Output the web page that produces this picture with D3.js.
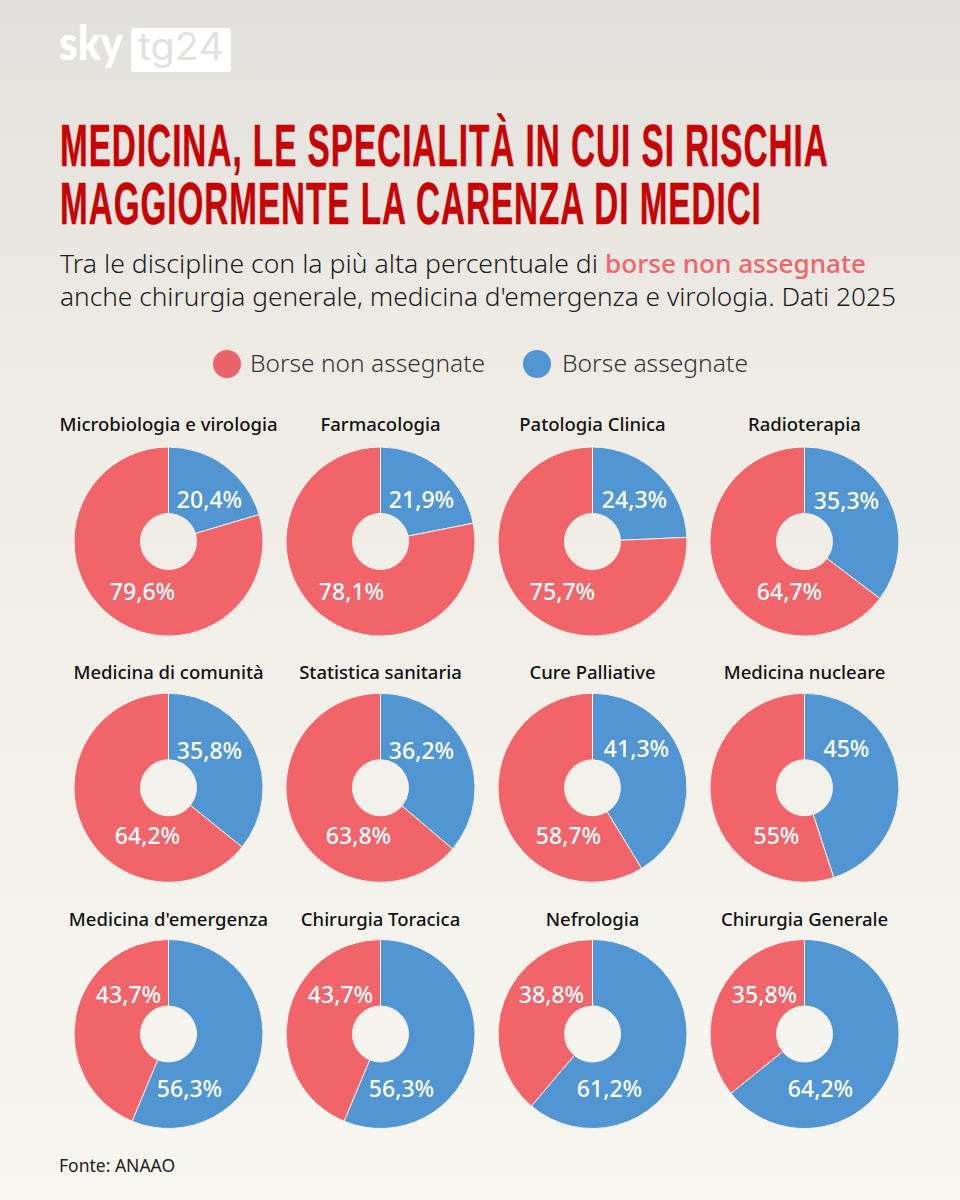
<!DOCTYPE html>
<html lang="it">
<head>
<meta charset="utf-8">
<title>Medicina, le specialità in cui si rischia la carenza di medici</title>
<script src="https://cdn.jsdelivr.net/npm/d3@7"></script>
<style>
  html, body { margin: 0; padding: 0; background: #f7f5ef; }
  svg { display: block; }
  text { font-family: "Noto Sans", sans-serif; }
</style>
</head>
<body>
<div id="chart"></div>
<script>
const categories = [
  "Microbiologia e virologia", "Farmacologia", "Patologia Clinica", "Radioterapia",
  "Medicina di comunità", "Statistica sanitaria", "Cure Palliative", "Medicina nucleare",
  "Medicina d'emergenza", "Chirurgia Toracica", "Nefrologia", "Chirurgia Generale"
]
const borseAssegnate = [20.4, 21.9, 24.3, 35.3, 35.8, 36.2, 41.3, 45, 56.3, 56.3, 61.2, 64.2]
const borseNonAssegnate = [79.6, 78.1, 75.7, 64.7, 64.2, 63.8, 58.7, 55, 43.7, 43.7, 38.8, 35.8]
const seriesNames = ["Borse non assegnate", "Borse assegnate"]

// labels in the original are placed by hand, so these are nudges from the pie centre: [blue, red]
const labelOffsets = [
  [[41, -42], [-26, 50]], [[41, -42], [-29, 50]], [[42, -42], [-30, 50]], [[42, -41], [-15, 50]],
  [[41, -38], [-21, 48]], [[41, -38], [-22, 48]], [[44, -40], [-24, 48]], [[42, -40], [-28, 48]],
  [[21, 54], [-40, -40]], [[21, 54], [-40, -40]], [[17, 54], [-41, -40]], [[16, 54], [-40, -40]]
]

const width = 960
const height = 1200
const red = "#f1646a"
const blue = "#5195d3"
const titleRed = "#c70303"

const svg = d3.select("#chart").append("svg")
  .attr("width", width)
  .attr("height", height)
  .attr("viewBox", [0, 0, width, height])

const grad = svg.append("defs").append("linearGradient")
  .attr("id", "bg")
  .attr("x1", 0).attr("y1", 0).attr("x2", 0).attr("y2", 1)
grad.selectAll("stop")
  .data([[0, "#e2e0dc"], [0.33, "#efece6"], [1, "#f8f6f0"]])
  .join("stop")
  .attr("offset", d => d[0])
  .attr("stop-color", d => d[1])

svg.append("rect")
  .attr("width", width)
  .attr("height", height)
  .attr("fill", "url(#bg)")

// fitted text, the brand fonts are not available so each line is squeezed to its width
function fitText(str, x, y, w, size, weight, color, family) {
  return svg.append("text")
    .attr("x", x)
    .attr("y", y)
    .attr("textLength", w)
    .attr("lengthAdjust", "spacingAndGlyphs")
    .attr("font-size", size)
    .attr("font-weight", weight)
    .attr("fill", color)
    .style("font-family", family || null)
    .text(str)
}

// logo
fitText("sky", 59, 60, 64, 48, 900, "#ffffff", "Lato, sans-serif")
svg.append("rect")
  .attr("x", 131).attr("y", 28)
  .attr("width", 100).attr("height", 44)
  .attr("rx", 3)
  .attr("fill", "#ffffff")
fitText("tg24", 138, 60, 86, 38, 400, "#e3e1dd", "Inter, sans-serif")

// title, measured then scaled since there is no tall condensed face here
const titleFont = '"Liberation Sans Narrow", "Liberation Sans", sans-serif'
function titleLine(str, y, w) {
  const t = svg.append("text")
    .attr("font-size", 50)
    .attr("font-weight", 700)
    .attr("letter-spacing", 1.5)
    .attr("fill", titleRed)
    .attr("stroke", titleRed)
    .attr("stroke-width", 0.4)
    .style("font-family", titleFont)
    .text(str)
  const len = t.node().getComputedTextLength()
  t.attr("transform", `translate(60,${y}) scale(${w / len},1.19)`)
}
titleLine("MEDICINA, LE SPECIALITÀ IN CUI SI RISCHIA", 166, 769)
titleLine("MAGGIORMENTE LA CARENZA DI MEDICI", 224, 702)

// subtitle
fitText("Tra le discipline con la più alta percentuale di", 60, 273, 538, 25, 300, "#1c1c1c")
fitText("borse non assegnate", 605, 273, 261, 25, 500, red)
fitText("anche chirurgia generale, medicina d'emergenza e virologia. Dati 2025", 60, 306, 836, 25, 300, "#1c1c1c")

// legend
const legend = svg.append("g")
legend.selectAll("circle")
  .data(seriesNames)
  .join("circle")
  .attr("cx", (d, i) => i ? 537 : 227)
  .attr("cy", 364)
  .attr("r", 14)
  .attr("fill", (d, i) => i ? blue : "#ea6469")
fitText(seriesNames[0], 250, 372, 235, 23, 300, "#333333")
fitText(seriesNames[1], 562, 372, 186, 23, 300, "#333333")

// pies
const x = d3.scalePoint().domain(d3.range(4)).range([168.5, 804.5])
const y = d3.scalePoint().domain(d3.range(3)).range([541.5, 1034])

const pie = d3.pie().sort(null).value(d => d.value)
const arc = d3.arc().innerRadius(28).outerRadius(94.5)

const fmt = v => String(v).replace(".", ",") + "%"

const cells = svg.append("g")
  .selectAll("g")
  .data(categories)
  .join("g")
  .attr("transform", (d, i) => `translate(${x(i % 4)},${y(Math.floor(i / 4))})`)

cells.append("text")
  .attr("y", (d, i) => i < 4 ? -110.5 : -108.5)
  .attr("text-anchor", "middle")
  .attr("font-size", 18.5)
  .attr("font-weight", 500)
  .attr("fill", "#111111")
  .text(d => d)

cells.each(function(d, i) {
  const slices = pie([
    { key: "a", value: borseAssegnate[i], color: blue },
    { key: "n", value: borseNonAssegnate[i], color: red }
  ])
  const g = d3.select(this)

  g.selectAll("path")
    .data(slices)
    .join("path")
    .attr("d", arc)
    .attr("fill", s => s.data.color)
    .attr("stroke", "#f5f2ec")
    .attr("stroke-width", 1)

  g.selectAll("text.val")
    .data(slices)
    .join("text")
    .attr("class", "val")
    .attr("x", (s, j) => labelOffsets[i][j][0])
    .attr("y", (s, j) => labelOffsets[i][j][1])
    .attr("dy", "0.38em")
    .attr("text-anchor", "middle")
    .attr("font-size", 23)
    .attr("font-weight", 500)
    .attr("fill", "#ffffff")
    .text(s => fmt(s.data.value))
})

// source
svg.append("text")
  .attr("x", 59)
  .attr("y", 1172)
  .attr("font-size", 17.5)
  .attr("fill", "#222222")
  .text("Fonte: ANAAO")
</script>
</body>
</html>
